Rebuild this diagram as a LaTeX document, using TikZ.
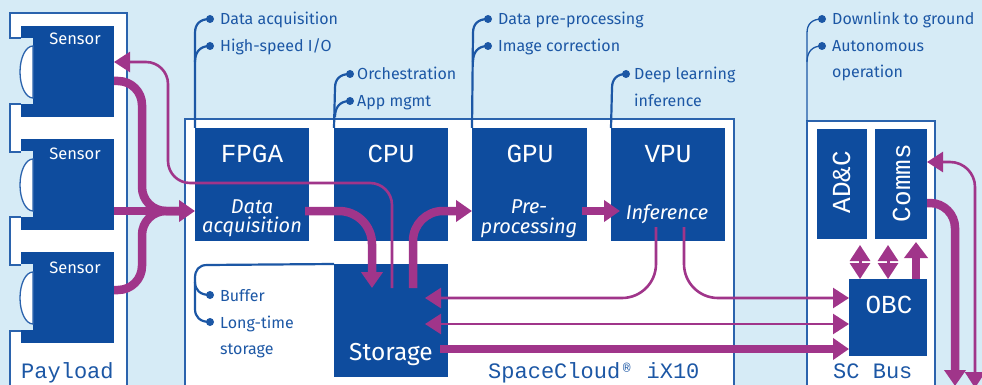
\documentclass[tikz,border=0pt]{standalone}
\usepackage{fontspec}
\setmainfont{Fira Sans}
\newfontfamily\monof{Liberation Mono}
\usetikzlibrary{arrows.meta}
\definecolor{bgc}{HTML}{D6EBF6}
\definecolor{boxc}{HTML}{0E4C9E}
\definecolor{framec}{HTML}{2B63AD}
\definecolor{txtc}{HTML}{1C57A5}
\definecolor{magc}{HTML}{A0358A}
\begin{document}
\begin{tikzpicture}[x=1pt,y=-1pt,
  frm/.style={fill=white,draw=framec,line width=1.3pt},
  blk/.style={fill=boxc,draw=none,inner sep=0pt,outer sep=0pt,anchor=north west},
  thinm/.style={draw=magc,line width=2.6pt},
  thickm/.style={draw=magc,line width=8.5pt},
  tipthin/.style={-{Triangle[length=16pt,width=20pt]}},
  tipboth/.style={{Triangle[length=16pt,width=20pt]}-{Triangle[length=16pt,width=20pt]}},
  tipthick/.style={-{Triangle[length=16pt,width=21pt]}},
  callout/.style={draw=txtc,line width=2.2pt},
  callthin/.style={draw=txtc,line width=1.3pt},
  calltxt/.style={text=txtc,font=\fontsize{16}{16}\selectfont,anchor=base west,inner sep=0pt},
  boxtitle/.style={text=white,font=\monof\fontsize{26}{26}\selectfont,anchor=base,inner sep=0pt},
  italtxt/.style={text=white,font=\itshape\fontsize{20}{20}\selectfont,anchor=base,inner sep=0pt},
  sensortxt/.style={text=white,font=\fontsize{16.5}{16.5}\selectfont,anchor=base,inner sep=0pt},
  frametxt/.style={text=txtc,font=\monof\fontsize{22}{22}\selectfont,anchor=base west,inner sep=0pt}
]
\useasboundingbox (0,0) rectangle (982,385);
\fill[bgc] (0,0) rectangle (982,385);

% frames
\draw[frm] (127,395) -- (127,13) -- (10,13) -- (10,38) -- (33,38) -- (33,104) -- (10,104)
  -- (10,152) -- (33,152) -- (33,217) -- (10,217) -- (10,265) -- (33,265) -- (33,331)
  -- (10,331) -- (10,395);
\draw[frm] (185,395) -- (185,119) -- (734,119) -- (734,395);
\draw[frm] (807,395) -- (807,121) -- (935,121) -- (935,395);

% sensors
\foreach \n/\t in {1/26,2/139,3/252}{
  \node[blk,minimum width=93pt,minimum height=91pt] (s\n) at (21,\t) {};
  \fill[bgc] (20.5,\t+12) rectangle (33,\t+78);
  \draw[framec,line width=1.3pt,fill=white] (33,\t+20) arc[start angle=270,end angle=90,x radius=13,y radius=26] -- cycle;
}
\node[sensortxt] (s1t) at (75,45) {Sensor};
\node[sensortxt] (s2t) at (75,160) {Sensor};
\node[sensortxt] (s3t) at (75,273) {Sensor};
\node[frametxt] (payl) at (21,378) {Payload};

% SpaceCloud boxes
\node[blk,minimum width=114pt,minimum height=113pt] (fpga) at (195,128) {};
\node[blk,minimum width=114pt,minimum height=113pt] (cpu) at (334,128) {};
\node[blk,minimum width=115pt,minimum height=113pt] (gpu) at (472,128) {};
\node[blk,minimum width=114pt,minimum height=113pt] (vpu) at (611,128) {};
\node[blk,minimum width=114pt,minimum height=113pt] (stor) at (334,264) {};
\node[blk,minimum width=50pt,minimum height=110pt] (adc) at (817,129) {};
\node[blk,minimum width=52pt,minimum height=110pt] (comms) at (875,129) {};
\node[blk,minimum width=78pt,minimum height=77pt] (obc) at (849,279) {};

\node[boxtitle] (fpgat) at (252,162) {FPGA};
\node[boxtitle] (cput) at (391,162) {CPU};
\node[boxtitle] (gput) at (530,162) {GPU};
\node[boxtitle] (vput) at (668,162) {VPU};
\node[boxtitle] (obct) at (889,313) {OBC};
\node[boxtitle,rotate=90] (adct) at (850,182) {AD\&C};
\node[boxtitle,rotate=90] (commst) at (910,183) {Comms};
\node[italtxt] (da1) at (252,213) {Data};
\node[italtxt] (da2) at (252,232) {acquisition};
\node[italtxt] (pp1) at (529,213) {Pre-};
\node[italtxt] (pp2) at (529,233) {processing};
\node[italtxt] (inf) at (667,219) {Inference};
\node[text=white,font=\fontsize{24.5}{24.5}\selectfont,anchor=base,inner sep=0pt] (stt) at (391,360) {Storage};
\node[frametxt] (sct) at (488,378) {SpaceCloud\makebox[13.2pt][c]{\raisebox{6pt}{\fontsize{13}{13}\selectfont ®}} iX10};
\node[frametxt] (bust) at (833,378) {SC Bus};

% callouts
\draw[callout] (fpga.north west) -- (195,33) .. controls (195,24) and (200,19) .. (210,19);
\draw[callout] (195,62) .. controls (195,52) and (200,46) .. (210,46);
\fill[txtc] (210,19) circle (4pt) (210,46) circle (4pt);
\node[calltxt] (c1) at (220,25) {Data acquisition};
\node[calltxt] (c2) at (220,52) {High-speed I/O};

\draw[callout] (cpu.north west) -- (335,88) .. controls (335,79) and (340,74) .. (350,74);
\draw[callout] (335,117) .. controls (335,107) and (340,101) .. (350,101);
\fill[txtc] (350,74) circle (4pt) (350,101) circle (4pt);
\node[calltxt] (c3) at (357,80) {Orchestration};
\node[calltxt] (c4) at (357,107) {App mgmt};

\draw[callout] (gpu.north west) -- (473,33) .. controls (473,24) and (478,19) .. (488,19);
\draw[callout] (473,62) .. controls (473,52) and (478,46) .. (488,46);
\fill[txtc] (488,19) circle (4pt) (488,46) circle (4pt);
\node[calltxt] (c5) at (498,25) {Data pre-processing};
\node[calltxt] (c6) at (498,52) {Image correction};

\draw[callout] (vpu.north west) -- (612,88) .. controls (612,79) and (617,74) .. (626,74);
\fill[txtc] (626,74) circle (4pt);
\node[calltxt] (c7) at (634,80) {Deep learning};
\node[calltxt] (c8) at (634,107) {inference};

\draw[callthin] (807,121) -- (807,33) .. controls (807,24) and (812,19) .. (822,19);
\draw[callthin] (807,62) .. controls (807,52) and (812,46) .. (822,46);
\fill[txtc] (822,19) circle (4pt) (822,46) circle (4pt);
\node[calltxt] (c9) at (832,25) {Downlink to ground};
\node[calltxt] (c10) at (832,52) {Autonomous};
\node[calltxt] (c11) at (832,78) {operation};

\draw[callout] (stor.north west) -- (207,265) .. controls (199,265) and (195,270) .. (195,278)
  -- (195,309) .. controls (195,317) and (200,322) .. (210,322);
\draw[callout] (195,282) .. controls (195,290) and (200,295) .. (210,295);
\fill[txtc] (210,295) circle (4pt) (210,322) circle (4pt);
\node[calltxt] (c12) at (220,301) {Buffer};
\node[calltxt] (c13) at (220,328) {Long-time};
\node[calltxt] (c14) at (220,354) {storage};

% magenta connectors
\coordinate (merge) at (180,211);
\draw[thickm,rounded corners=24pt] (114,81) -- (142,81) -- (142,211) -- (merge);
\draw[thickm,rounded corners=24pt] (114,290) -- (142,290) -- (142,211) -- (merge);
\draw[thickm,tipthick] (s2.east |- merge) -- (fpga.west |- merge);
\draw[thickm,tipthick,rounded corners=33pt] (305,211) -- (372,211) -- (372,288);
\draw[thickm,tipthick,rounded corners=30pt] (413,288) -- (413,211) -- (gpu.west |- 0,211);
\draw[thickm,tipthick] (582,211) -- (620,211);
\draw[thickm,tipthick] (440,349) -- (obc.west |- 0,349);
\draw[thickm,tipthick,rounded corners=25pt] (comms.east |- 0,203) -- (955,203) -- (955,386);
\draw[thickm,-{Triangle[length=16pt,width=23pt]}] (916,279) -- (916,242);

\draw[thinm,tipthin,rounded corners=22pt] (392,288) -- (392,183) -- (168,183) -- (168,62) -- (s1.east |- 0,62);
\draw[thinm,tipthin,rounded corners=34pt] (656,227) -- (656,298) -- (425,298);
\draw[thinm,tipthin,rounded corners=34pt] (684,227) -- (684,298) -- (obc.west |- 0,298);
\draw[thinm,tipboth] (425,324) -- (obc.west |- 0,324);
\draw[thinm,tipboth,rounded corners=25pt] (975,388) -- (975,162) -- (comms.east |- 0,162);
\draw[thinm,line width=3pt,tipboth] (860,245) -- (860,279);
\draw[thinm,line width=3pt,tipboth] (888,245) -- (888,279);
\end{tikzpicture}
\end{document}
